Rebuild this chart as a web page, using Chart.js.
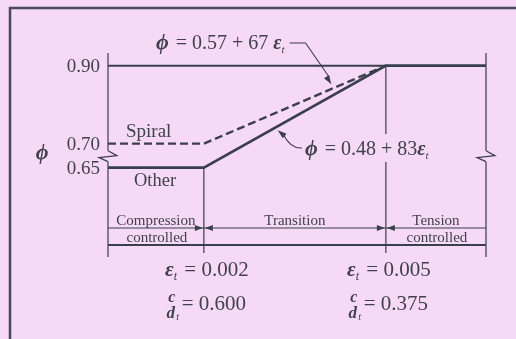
<!DOCTYPE html>
<html>
<head>
<meta charset="utf-8">
<script src="https://cdn.jsdelivr.net/npm/chart.js@4/dist/chart.umd.min.js"></script>
<style>
  html, body { margin: 0; padding: 0; background: #f6d9f4; }
  #wrap { width: 516px; height: 339px; position: relative; }
</style>
</head>
<body>
<div id="wrap"><canvas id="phiChart"></canvas></div>
<script>
// strain range shown on the horizontal axis
const strainMin = 0.00042;
const strainMax = 0.00665;

// phi curves
const otherStrain = [strainMin, 0.002, 0.005, strainMax];
const otherPhi = [0.65, 0.65, 0.90, 0.90];
const spiralStrain = [strainMin, 0.002, 0.005];
const spiralPhi = [0.70, 0.70, 0.90];
const capStrain = [strainMin, 0.005];
const capPhi = [0.90, 0.90];

// vertical axis ticks
const phiTicks = [0.90, 0.70, 0.65];
const phiTickLabels = ['0.90', '0.70', '0.65'];

// zone limits and labels
const zoneLimits = [0.002, 0.005];
const strainLabels = ['0.002', '0.005'];
const depthLabels = ['0.600', '0.375'];
const zoneNames = [['Compression', 'controlled'], ['Transition'], ['Tension', 'controlled']];

// transition equations phi = a + b * eps
const spiralEq = [0.57, 67];
const otherEq = [0.48, 83];

const INK = '#383f4d';
const TXT = '#3f4350';
const BG = '#f6d9f4';
const SERIF = '"Liberation Serif", "DejaVu Serif", serif';

// linear scale with a break: values below breakAt are stretched by lowerRatio
class BrokenLinearScale extends Chart.LinearScale {
    getPixelForValue(value) {
        const b = this.options.breakAt, r = this.options.lowerRatio;
        const span = (this.max - b) + (b - this.min) * r;
        const d = value >= b ? this.max - value : (this.max - b) + (b - value) * r;
        return this.top + d / span * (this.bottom - this.top);
    }
    getValueForPixel(pixel) {
        const b = this.options.breakAt, r = this.options.lowerRatio;
        const span = (this.max - b) + (b - this.min) * r;
        const d = (pixel - this.top) / (this.bottom - this.top) * span;
        return d <= this.max - b ? this.max - d : b - (d - (this.max - b)) / r;
    }
}
BrokenLinearScale.id = 'brokenLinear';
BrokenLinearScale.defaults = Chart.LinearScale.defaults;
Chart.register(BrokenLinearScale);

function pts(xs, ys) {
    return xs.map((x, i) => ({ x: x, y: ys[i] }));
}

// draw a run of text pieces with their own fonts and offsets
function rich(ctx, parts, x, y, align) {
    let total = 0;
    parts.forEach(p => { ctx.font = p[1]; total += ctx.measureText(p[0]).width + (p[3] || 0); });
    let cx = x;
    if (align === 'center') cx = x - total / 2;
    if (align === 'right') cx = x - total;
    ctx.textAlign = 'left';
    ctx.textBaseline = 'alphabetic';
    parts.forEach(p => {
        ctx.font = p[1];
        ctx.fillText(p[0], cx, y + (p[2] || 0));
        cx += ctx.measureText(p[0]).width + (p[3] || 0);
    });
    return total;
}

function arrowHead(ctx, tx, ty, angle, len, half) {
    ctx.save();
    ctx.translate(tx, ty);
    ctx.rotate(angle);
    ctx.beginPath();
    ctx.moveTo(0, 0);
    ctx.lineTo(-len, -half);
    ctx.lineTo(-len, half);
    ctx.closePath();
    ctx.fill();
    ctx.restore();
}

function axisBreak(ctx, x, y) {
    ctx.beginPath();
    ctx.moveTo(x, y - 5);
    ctx.lineTo(x + 9, y);
    ctx.lineTo(x - 9, y + 2);
    ctx.lineTo(x, y + 6);
    ctx.stroke();
}

const eps = (size) => [
    ['ε', 'italic bold ' + size + 'px ' + SERIF, 0],
    ['t', 'italic ' + Math.round(size * 0.55) + 'px ' + SERIF, 4, 2]
];
const phi = (size) => [['ϕ', 'italic bold ' + size + 'px ' + SERIF, 0, 2]];

const framePlugin = {
    id: 'frame',
    beforeDraw(chart) {
        const ctx = chart.ctx;
        ctx.save();
        ctx.fillStyle = BG;
        ctx.fillRect(0, 0, chart.width, chart.height);
        ctx.strokeStyle = '#464b58';
        ctx.lineWidth = 2.5;
        ctx.strokeRect(10, 8, chart.width + 20, chart.height + 20);
        ctx.restore();
    }
};

const diagramPlugin = {
    id: 'diagram',
    afterDatasetsDraw(chart) {
        const ctx = chart.ctx;
        const xs = chart.scales.x, ys = chart.scales.y;
        const a = chart.chartArea;
        const X = v => xs.getPixelForValue(v);
        const Y = v => ys.getPixelForValue(v);
        const bandTop = a.bottom - 29, bandBot = a.bottom - 12;

        ctx.save();
        ctx.strokeStyle = INK;
        ctx.fillStyle = INK;
        ctx.lineWidth = 1.2;

        // left and right borders with breaks
        const brk = (Y(0.70) + Y(0.65)) / 2;
        [a.left, a.right].forEach(x => {
            ctx.beginPath();
            ctx.moveTo(x, a.top);
            ctx.lineTo(x, brk - 5);
            ctx.moveTo(x, brk + 6);
            ctx.lineTo(x, a.bottom);
            ctx.stroke();
            axisBreak(ctx, x, brk);
        });

        // zone limit lines
        ctx.beginPath();
        ctx.moveTo(X(zoneLimits[0]), Y(0.65) + 1);
        ctx.lineTo(X(zoneLimits[0]), a.bottom - 4);
        ctx.moveTo(X(zoneLimits[1]), Y(0.90) + 1);
        ctx.lineTo(X(zoneLimits[1]), a.bottom - 4);
        ctx.stroke();

        // zone band
        ctx.beginPath();
        ctx.moveTo(a.left, bandTop);
        ctx.lineTo(a.right, bandTop);
        ctx.stroke();
        ctx.lineWidth = 2.2;
        ctx.beginPath();
        ctx.moveTo(a.left, bandBot);
        ctx.lineTo(a.right, bandBot);
        ctx.stroke();
        zoneLimits.forEach(v => {
            arrowHead(ctx, X(v) - 1, bandTop, 0, 8, 3);
            arrowHead(ctx, X(v) + 1, bandTop, Math.PI, 8, 3);
        });

        ctx.fillStyle = TXT;
        const edges = [a.left, X(zoneLimits[0]), X(zoneLimits[1]), a.right];
        zoneNames.forEach((lines, i) => {
            const cx = (edges[i] + edges[i + 1]) / 2;
            ctx.font = '15px ' + SERIF;
            ctx.textAlign = 'center';
            ctx.textBaseline = 'alphabetic';
            ctx.fillText(lines[0], cx, bandTop - 3);
            if (lines[1]) ctx.fillText(lines[1], cx + 1, bandBot - 3);
        });

        // vertical axis ticks and title
        phiTicks.forEach((v, i) => {
            rich(ctx, [[phiTickLabels[i], '19px ' + SERIF, 0]], a.left - 8, Y(v) + 6, 'right');
        });
        rich(ctx, phi(22), 43, brk + 3, 'center');

        // curve names
        rich(ctx, [['Spiral', '19px ' + SERIF, 0]], 126, Y(0.70) - 7, 'left');
        rich(ctx, [['Other', '18.5px ' + SERIF, 0]], 134, Y(0.65) + 18, 'left');

        // strain and depth ratio at each zone limit
        zoneLimits.forEach((v, i) => {
            const cx = X(v) + 3;
            rich(ctx, eps(21).concat([[' = ' + strainLabels[i], '21px ' + SERIF, 0]]), cx, a.bottom + 19, 'center');
            ctx.font = '21px ' + SERIF;
            const w = ctx.measureText('= ' + depthLabels[i]).width + 12;
            const fx = cx - w / 2 + 3;
            const by = a.bottom + 53;
            ctx.textAlign = 'center';
            ctx.font = 'italic bold 16px ' + SERIF;
            ctx.fillText('c', fx, by - 8);
            ctx.font = 'italic bold 17px ' + SERIF;
            ctx.fillText('d', fx - 1, by + 8);
            ctx.font = 'italic 10px ' + SERIF;
            ctx.fillText('t', fx + 6, by + 10);
            rich(ctx, [['= ' + depthLabels[i], '21px ' + SERIF, 0]], fx + 10, by, 'left');
        });

        // equation for spiral members
        ctx.fillStyle = TXT;
        const e1x = 156, e1y = 49;
        const w1 = rich(ctx, phi(22).concat([[' = 0.57 + 67 ', '20px ' + SERIF, 0]], eps(20)), e1x, e1y, 'left');
        const s1 = 0.0041;
        const t1x = X(s1), t1y = Y(spiralEq[0] + spiralEq[1] * s1) - 3;
        ctx.strokeStyle = INK;
        ctx.fillStyle = INK;
        ctx.lineWidth = 1.1;
        ctx.beginPath();
        ctx.moveTo(e1x + w1 + 3, e1y - 6);
        ctx.lineTo(e1x + w1 + 19, e1y - 6);
        ctx.lineTo(t1x - 2, t1y - 7);
        ctx.stroke();
        arrowHead(ctx, t1x, t1y, Math.atan2(t1y - (e1y - 6), t1x - (e1x + w1 + 19)), 9, 3);

        // equation for other members
        const e2x = 305, e2y = 155;
        ctx.fillStyle = BG;
        ctx.fillRect(e2x - 2, e2y - 21, 136, 28);
        ctx.fillStyle = TXT;
        rich(ctx, phi(22).concat([[' = 0.48 + 83', '20px ' + SERIF, 0]], eps(20)), e2x, e2y, 'left');
        const s2 = 0.00325;
        const t2x = X(s2) - 2, t2y = Y(otherEq[0] + otherEq[1] * s2) + 6;
        ctx.fillStyle = INK;
        ctx.beginPath();
        ctx.moveTo(e2x - 3, e2y - 7);
        ctx.quadraticCurveTo(e2x - 14, e2y - 6, t2x + 6, t2y + 5);
        ctx.stroke();
        arrowHead(ctx, t2x, t2y, Math.atan2(-5, -6), 9, 3);

        ctx.restore();
    }
};

new Chart(document.getElementById('phiChart'), {
    type: 'line',
    data: {
        datasets: [
            { label: 'cap', data: pts(capStrain, capPhi), borderColor: INK, borderWidth: 2 },
            { label: 'Spiral', data: pts(spiralStrain, spiralPhi), borderColor: INK, borderWidth: 2.4, borderDash: [8, 4] },
            { label: 'Other', data: pts(otherStrain, otherPhi), borderColor: INK, borderWidth: 2.6 }
        ]
    },
    options: {
        responsive: true,
        maintainAspectRatio: false,
        animation: false,
        layout: { padding: { left: 108, right: 30, top: 53, bottom: 82 } },
        elements: { point: { radius: 0 }, line: { tension: 0, borderCapStyle: 'butt' } },
        scales: {
            x: { type: 'linear', min: strainMin, max: strainMax, display: false },
            y: { type: 'brokenLinear', min: 0.4639, max: 0.9325, breakAt: 0.70, lowerRatio: 1.2308, display: false }
        },
        plugins: { legend: { display: false }, tooltip: { enabled: false } }
    },
    plugins: [framePlugin, diagramPlugin]
});
</script>
</body>
</html>
